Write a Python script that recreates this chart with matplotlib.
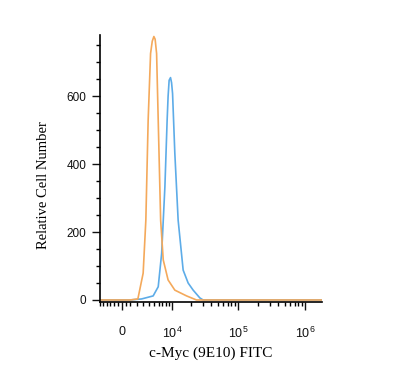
import numpy as np
import matplotlib
matplotlib.use("Agg")
import matplotlib.pyplot as plt
from matplotlib.ticker import FixedLocator

# Histogram outlines (fluorescence value, cell count)
isotype_x = [-3050, 1029, 2139, 2957, 3408, 3818, 4274, 4607, 4943, 5217, 5546,
             5927, 6530, 7226, 8691, 11130, 16910, 23940, 1.8e6]
isotype_y = [0, 0, 3, 79, 235, 529, 726, 762, 776, 768, 726,
             529, 235, 118, 59, 29, 12, 0, 0]

cmyc_x = [-3050, 1029, 2700, 4795, 5927, 6790, 7700, 8380, 8691, 9030, 9510,
          9880, 10250, 11130, 12540, 14990, 17870, 21300, 26900, 30150, 1.8e6]
cmyc_y = [0, 0, 3, 12, 39, 137, 333, 529, 600, 647, 655,
          640, 608, 432, 235, 88, 50, 29, 6, 0, 0]

x_major = [0, 1e4, 1e5, 1e6]
x_major_labels = ["0", r"$\mathregular{10^{4}}$", r"$\mathregular{10^{5}}$",
                  r"$\mathregular{10^{6}}$"]
x_minor = ([-3000, -2500, -2000, -1500, -1000, -500, 500, 1000]
           + [k * 1000 for k in range(2, 10)]
           + [k * 10000 for k in range(2, 10)]
           + [k * 100000 for k in range(2, 10)])

C = 3700.0


def fwd(v):
    return np.arcsinh(np.asarray(v, dtype=float) / C)


def inv(u):
    return C * np.sinh(np.asarray(u, dtype=float))


plt.rcParams['font.family'] = ['Liberation Sans', 'DejaVu Sans']
plt.rcParams['mathtext.default'] = 'regular'

fig = plt.figure(figsize=(4.0, 3.78), dpi=100)
ax = fig.add_axes([0.25, 0.201, 0.555, 0.706])

ax.plot(cmyc_x, cmyc_y, color='#5DACE8', lw=1.2)
ax.plot(isotype_x, isotype_y, color='#F4A95B', lw=1.2)

ax.set_xscale('function', functions=(fwd, inv))
ax.set_xlim(-3050, 1.8e6)
ax.set_ylim(-6, 780)

for side in ('top', 'right'):
    ax.spines[side].set_visible(False)
ax.spines['left'].set_linewidth(1.2)
ax.spines['bottom'].set_linewidth(1.2)

ax.xaxis.set_major_locator(FixedLocator(x_major))
ax.xaxis.set_minor_locator(FixedLocator(x_minor))
ax.set_xticklabels(x_major_labels)
ax.set_yticks([0, 200, 400, 600])
ax.yaxis.set_minor_locator(FixedLocator(np.arange(0, 781, 50)))

ax.tick_params(axis='x', which='major', length=6, width=1, pad=11,
               labelsize=9, colors='#111111')
ax.tick_params(axis='x', which='minor', length=3, width=1)
ax.tick_params(axis='y', which='major', length=6, width=1, pad=4,
               labelsize=8.5, colors='#111111')
ax.tick_params(axis='y', which='minor', length=3, width=1)

ax.set_xlabel("c-Myc (9E10) FITC", family='Liberation Serif', fontsize=11,
              labelpad=4)
ax.set_ylabel("Relative Cell Number", family='Liberation Serif', fontsize=10.5)
ax.yaxis.set_label_coords(-0.225, 0.44)

fig.savefig("out.png", dpi=100)
